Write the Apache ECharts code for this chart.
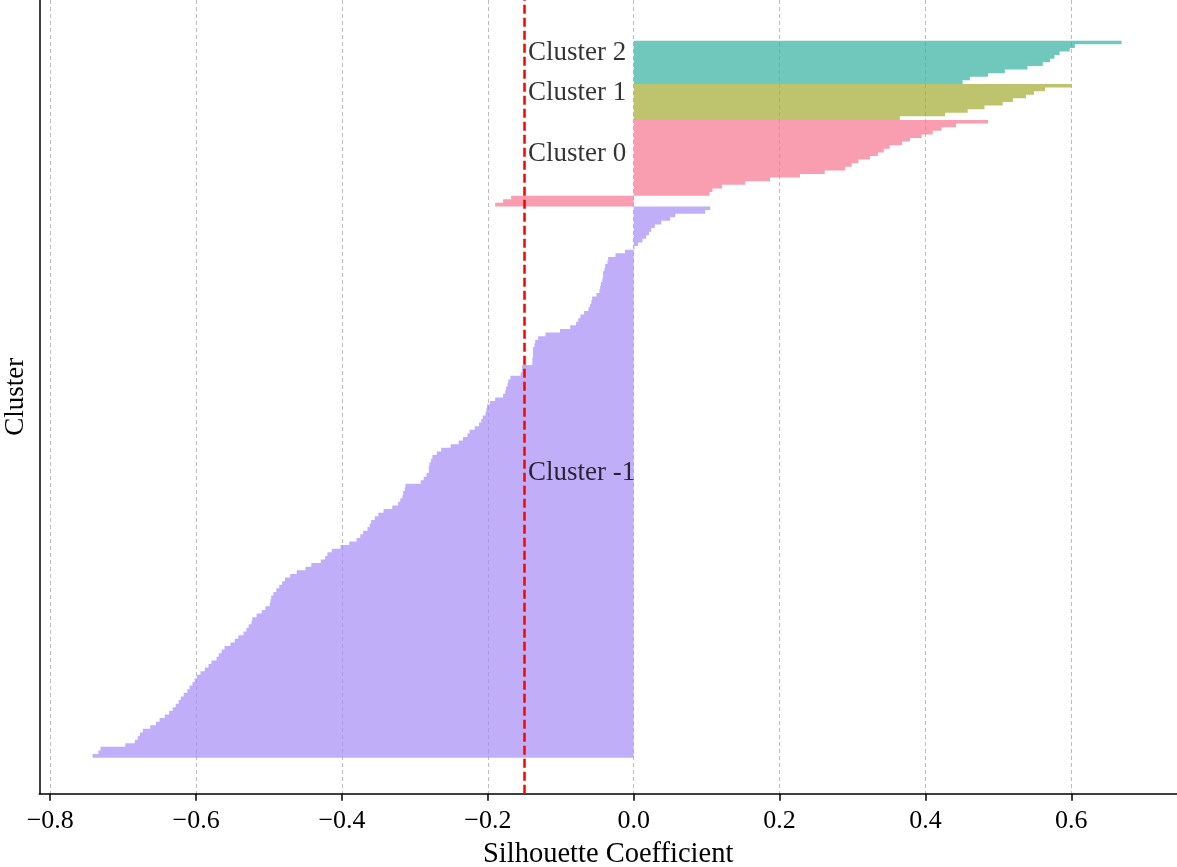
<!DOCTYPE html>
<html><head><meta charset="utf-8">
<script src="https://cdn.jsdelivr.net/npm/echarts@6/dist/echarts.min.js"></script>
<style>html,body{margin:0;padding:0;background:#fff}#c{width:1177px;height:867px}</style>
</head><body><div id="c"></div>
<script>
// ---- data ----
const clusterNames = ['Cluster -1', 'Cluster 0', 'Cluster 1', 'Cluster 2'];
const valuesM1 = [
-0.742,-0.734,-0.731,-0.697,-0.684,-0.680,-0.677,-0.673,-0.663,-0.655,
-0.650,-0.643,-0.637,-0.632,-0.628,-0.624,-0.621,-0.617,-0.612,-0.609,
-0.605,-0.602,-0.599,-0.594,-0.588,-0.583,-0.579,-0.572,-0.569,-0.565,
-0.561,-0.553,-0.547,-0.542,-0.535,-0.531,-0.528,-0.524,-0.523,-0.517,
-0.510,-0.505,-0.499,-0.498,-0.497,-0.494,-0.490,-0.486,-0.482,-0.478,
-0.471,-0.462,-0.450,-0.442,-0.429,-0.423,-0.420,-0.414,-0.402,-0.390,
-0.380,-0.375,-0.371,-0.365,-0.362,-0.360,-0.355,-0.350,-0.343,-0.331,
-0.323,-0.320,-0.317,-0.316,-0.314,-0.313,-0.292,-0.288,-0.284,-0.281,
-0.281,-0.280,-0.278,-0.276,-0.270,-0.264,-0.251,-0.240,-0.234,-0.228,
-0.225,-0.218,-0.212,-0.209,-0.207,-0.203,-0.202,-0.201,-0.197,-0.190,
-0.179,-0.176,-0.175,-0.173,-0.172,-0.169,-0.155,-0.153,-0.153,-0.139,
-0.139,-0.138,-0.138,-0.138,-0.136,-0.135,-0.131,-0.121,-0.101,-0.087,
-0.079,-0.076,-0.073,-0.068,-0.062,-0.060,-0.058,-0.057,-0.051,-0.047,
-0.046,-0.045,-0.043,-0.042,-0.042,-0.040,-0.039,-0.036,-0.035,-0.025,
-0.012,0.001,0.006,0.012,0.017,0.021,0.024,0.029,0.038,0.050,
0.057,0.098,0.105
];
const values0 = [-0.190,-0.179,-0.168,0.104,0.108,0.121,0.153,0.187,0.228,0.262,0.290,0.299,0.308,0.324,0.335,0.343,0.351,0.368,0.379,0.395,0.410,0.422,0.442,0.486];
const values1 = [0.365,0.427,0.458,0.481,0.506,0.520,0.538,0.549,0.564,0.600];
const values2 = [0.451,0.461,0.486,0.509,0.540,0.561,0.571,0.577,0.584,0.598,0.605,0.669];
const xTicks = [-0.8, -0.6, -0.4, -0.2, 0, 0.2, 0.4, 0.6];
const avgScore = -0.152;

// ---- style ----
const clusterColors = ['#a68cf5', '#f7758f', '#a3ab30', '#33b0a1'];
const FONT = 'Liberation Serif';
const allValues = [valuesM1, values0, values1, values2];
const yStartOffset = 10;

// cluster layout (stacked, bottom to top)
const starts = [];
let acc = yStartOffset;
allValues.forEach(v => { starts.push(acc); acc += v.length; });
const yMax = acc + 11.3;

const labelData = clusterNames.map((n, i) => [-0.145, starts[i] + allValues[i].length / 2, n]);

const chart = echarts.init(document.getElementById('c'), null, {renderer: 'canvas'});
chart.setOption({
  animation: false,
  backgroundColor: '#ffffff',
  grid: {left: 39.3, right: 0, top: 0, bottom: 73.3, containLabel: false, outerBoundsMode: 'none'},
  xAxis: {
    type: 'value', min: -0.815, max: 0.745,
    name: 'Silhouette Coefficient', nameLocation: 'middle', nameGap: 46,
    nameTextStyle: {fontFamily: FONT, fontSize: 28.5, color: '#000'},
    axisLine: {show: true, onZero: false, lineStyle: {color: '#000', width: 1.5}},
    axisTick: {show: true, length: 7, lineStyle: {color: '#000', width: 1.5}, customValues: xTicks},
    axisLabel: {show: true, customValues: xTicks, margin: 14, fontFamily: FONT, fontSize: 26, color: '#000',
      formatter: v => (v < -1e-9 ? '\u2212' : '') + Math.abs(v).toFixed(1)},
    splitLine: {show: true, lineStyle: {color: '#bdbdbd', width: 1, type: [4, 3]}}
  },
  yAxis: {
    type: 'value', min: 0, max: yMax,
    name: 'Cluster', nameLocation: 'middle', nameGap: 10, nameRotate: 90,
    nameTextStyle: {fontFamily: FONT, fontSize: 27, color: '#000'},
    axisLine: {show: true, onZero: false, lineStyle: {color: '#000', width: 1.5}},
    axisTick: {show: false}, axisLabel: {show: false}, splitLine: {show: false}
  },
  series: [
    {
      type: 'custom',
      data: clusterNames.map((n, i) => [i]),
      renderItem: function (params, api) {
        const ci = params.dataIndex;
        const vals = allValues[ci];
        const s = starts[ci];
        const pts = [api.coord([0, s])];
        vals.forEach((v, k) => {
          pts.push(api.coord([v, s + k]));
          pts.push(api.coord([v, s + k + 1]));
        });
        pts.push(api.coord([0, s + vals.length]));
        return {
          type: 'polygon',
          shape: {points: pts},
          style: {fill: clusterColors[ci], opacity: 0.7, stroke: null}
        };
      },
      markLine: {
        silent: true, symbol: 'none', label: {show: false},
        lineStyle: {color: '#ff0000', width: 2.5, type: [9, 4]},
        data: [{xAxis: avgScore}]
      },
      z: 2
    },
    {
      type: 'scatter', symbolSize: 0, data: labelData, z: 5,
      label: {show: true, position: 'right', distance: 0, offset: [0, -9],
        formatter: p => p.data[2], fontFamily: FONT, fontSize: 27, color: '#000'}
    }
  ]
});
</script>
</body></html>
